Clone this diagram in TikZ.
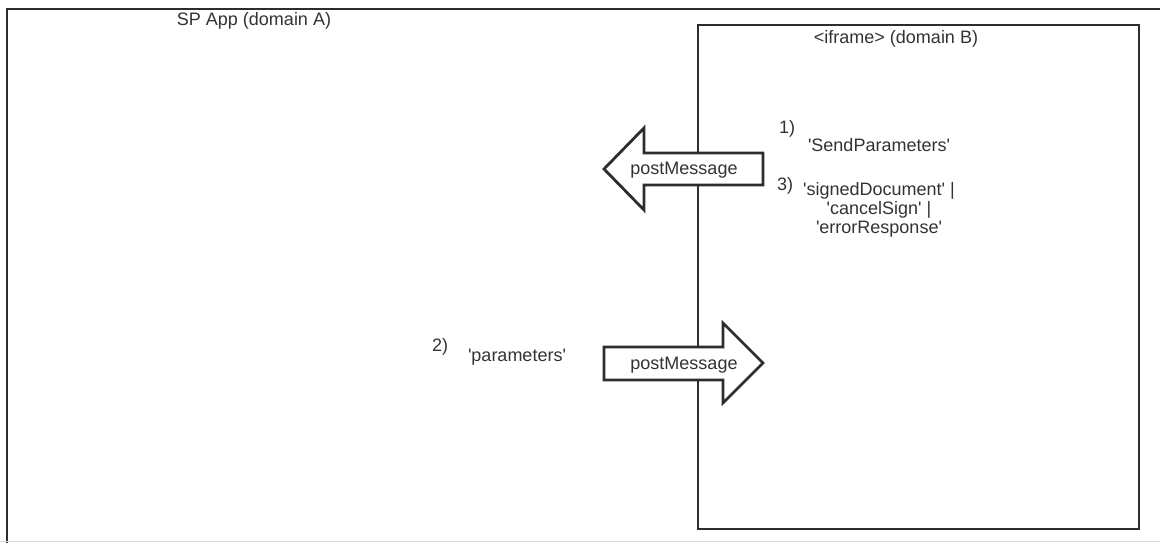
\documentclass[tikz,border=0pt]{standalone}
\usepackage{fontspec}
\setmainfont{Liberation Sans}[Ligatures=TeXOff]
\definecolor{linecol}{RGB}{45,45,45}
\definecolor{txtcol}{RGB}{51,51,51}
\definecolor{edgecol}{RGB}{215,215,215}
\tikzset{
  boxline/.style={draw=linecol, line width=2.8pt},
  arrowshape/.style={draw=linecol, fill=white, line width=2.8pt, line join=miter},
  lbl/.style={text=txtcol, font=\fontsize{18}{19}\selectfont, inner sep=0pt, align=center},
}
\begin{document}
\begin{tikzpicture}[x=1pt,y=-1pt]
\useasboundingbox (0,0) rectangle (1160,543);
\fill[white] (0,0) rectangle (1160,543);
% outer frame (cropped on the right and bottom)
\draw[boxline] (1165,9) -- (7,9) -- (7,543);
\draw[edgecol, line width=1pt] (0,541.5) -- (1160,541.5);
% iframe box
\draw[boxline] (698,25) rectangle (1139,529);
% left arrow
\draw[arrowshape] (604,169) -- (644,128) -- (644,153) -- (763,153) -- (763,185) -- (644,185) -- (644,210) -- cycle;
\node[lbl] (pmleft) at (684,170) {postMessage};
% right arrow
\draw[arrowshape] (604,347) -- (723,347) -- (723,323) -- (763,363) -- (723,403) -- (723,380) -- (604,380) -- cycle;
\node[lbl] (pmright) at (684,365) {postMessage};
% labels
\node[lbl] (spapp) at (254,21) {SP App (domain A)};
\node[lbl] (iframe) at (896,39) {<iframe> (domain B)};
\node[lbl] (n1) at (787,129) {1)};
\node[lbl] (send) at (879,145) {'SendParameters'};
\node[lbl] (n3) at (785,186) {3)};
\node[lbl] (resp) at (879,210) {'signedDocument' |\\'cancelSign' |\\'errorResponse'};
\node[lbl] (n2) at (440,347) {2)};
\node[lbl] (params) at (517,357) {'parameters'};
\end{tikzpicture}
\end{document}
